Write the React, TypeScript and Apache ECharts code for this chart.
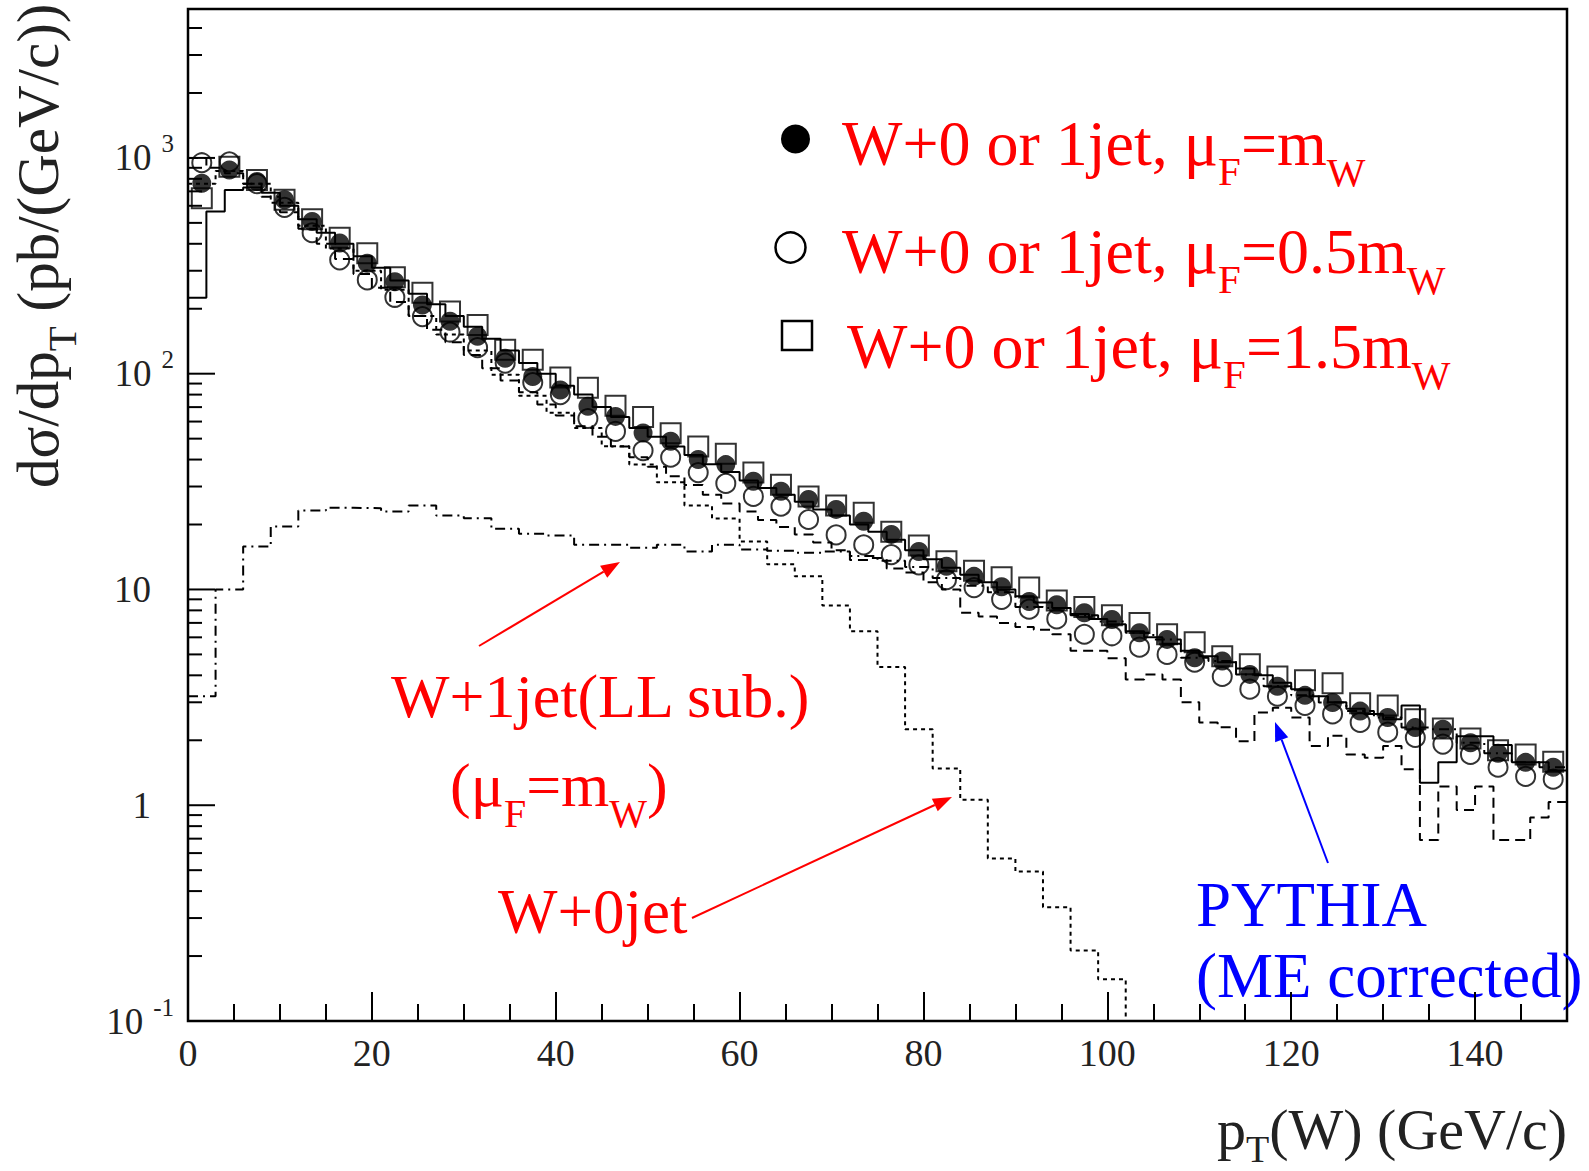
import React, { useEffect, useRef } from "react";
import * as echarts from "echarts";

const FONT = '"Liberation Serif", "Times New Roman", serif';

// ---------------- data ----------------
// 3 GeV bins: marker positions (bin centres)
const binCenters3 = [1.5, 4.5, 7.5, 10.5, 13.5, 16.5, 19.5, 22.5, 25.5, 28.5, 31.5, 34.5, 37.5, 40.5, 43.5, 46.5, 49.5, 52.5, 55.5, 58.5, 61.5, 64.5, 67.5, 70.5, 73.5, 76.5, 79.5, 82.5, 85.5, 88.5, 91.5, 94.5, 97.5, 100.5, 103.5, 106.5, 109.5, 112.5, 115.5, 118.5, 121.5, 124.5, 127.5, 130.5, 133.5, 136.5, 139.5, 142.5, 145.5, 148.5];
// W+0 or 1jet, muF = mW (filled circles)
const muF_mW = [763, 880, 777, 640, 507, 403, 325, 267, 208, 175, 149, 118, 97, 84, 70.6, 63.4, 53.1, 48.6, 40.0, 37.9, 31.7, 28.5, 26.1, 23.5, 20.7, 18.0, 15.0, 12.8, 11.5, 10.3, 8.8, 8.5, 7.8, 7.26, 6.3, 5.87, 4.83, 4.66, 4.04, 3.56, 3.23, 2.99, 2.73, 2.55, 2.29, 2.25, 1.95, 1.74, 1.58, 1.50];
// W+0 or 1jet, muF = 0.5 mW (open circles)
const muF_05mW = [950, 960, 760, 590, 450, 337, 272, 226, 184, 156, 132, 112, 91, 80, 62, 54, 44, 41, 34.8, 31, 27, 24.3, 21.1, 17.9, 16.1, 14.5, 13.0, 11.1, 10.2, 9.0, 8.1, 7.3, 6.2, 6.1, 5.4, 5.0, 4.6, 3.95, 3.45, 3.2, 2.9, 2.65, 2.42, 2.18, 2.06, 1.92, 1.72, 1.5, 1.36, 1.32];
// W+0 or 1jet, muF = 1.5 mW (open squares)
const muF_15mW = [650, 910, 790, 640, 520, 427, 362, 280, 237, 194, 168, 129, 116, 96, 86, 71, 63, 53, 46, 42.5, 34.8, 30.6, 27, 24.5, 22.7, 18.5, 16, 13.5, 12.2, 11.4, 10.2, 8.9, 8.3, 7.6, 7.0, 6.2, 5.7, 4.9, 4.5, 3.95, 3.8, 3.68, 2.97, 2.9, 2.5, 2.27, 2.04, 1.8, 1.72, 1.59];

// 3 GeV histogram edges
const binEdges3 = [0, 3, 6, 9, 12, 15, 18, 21, 24, 27, 30, 33, 36, 39, 42, 45, 48, 51, 54, 57, 60, 63, 66, 69, 72, 75, 78, 81, 84, 87, 90, 93, 96, 99, 102, 105, 108, 111, 114, 117, 120, 123, 126, 129, 132, 135, 138, 141, 144, 147, 150];
// W+0jet (dotted) - falls below the axis after 102 GeV
const w0jet = [760, 870, 760, 620, 485, 380, 300, 245, 185, 152, 128, 99, 79, 66, 56, 46.1, 37.9, 31.4, 24.5, 21.3, 16.7, 13.1, 11.5, 8.43, 6.41, 4.37, 2.25, 1.48, 1.06, 0.567, 0.493, 0.337, 0.212, 0.156];
const w0jetBelowAxis = 0.03;
// W+1jet (LL sub.) (dash-dotted)
const w1jetLL = [3.2, 10, 15.8, 19.6, 23.2, 23.9, 23.8, 23.0, 24.5, 22, 21.4, 19.1, 18.1, 17.8, 16.1, 16.1, 15.6, 16.1, 15.0, 16.1, 15.3, 15.1, 14.8, 15.0, 14.3, 13.6, 12.7, 11.3, 10.4, 9.7, 8.3, 8.2, 7.6, 7.1, 6.3, 5.87, 4.83, 4.66, 4.04, 3.56, 3.23, 2.99, 2.73, 2.55, 2.29, 2.25, 1.95, 1.74, 1.58, 1.50];

// 2 GeV histogram edges
const binEdges2 = [0, 2, 4, 6, 8, 10, 12, 14, 16, 18, 20, 22, 24, 26, 28, 30, 32, 34, 36, 38, 40, 42, 44, 46, 48, 50, 52, 54, 56, 58, 60, 62, 64, 66, 68, 70, 72, 74, 76, 78, 80, 82, 84, 86, 88, 90, 92, 94, 96, 98, 100, 102, 104, 106, 108, 110, 112, 114, 116, 118, 120, 122, 124, 126, 128, 130, 132, 134, 136, 138, 140, 142, 144, 146, 148, 150];
// solid histogram
const histSolid = [225, 564, 711, 730, 690, 600, 520, 450, 400, 350, 310, 270, 235, 210, 185, 165, 145, 128, 112, 100, 88, 80, 70, 63, 56, 51, 46, 42, 38, 35, 32, 29.5, 27.5, 25.5, 23.5, 22, 20, 18.5, 17, 15.2, 13.8, 12.6, 11.7, 10.8, 10.0, 9.3, 8.7, 8.2, 7.7, 7.3, 6.9, 6.4, 6.0, 5.6, 5.2, 4.9, 4.6, 4.3, 4.0, 3.7, 3.45, 3.2, 3.0, 2.8, 2.65, 2.5, 2.9, 1.27, 1.58, 2.09, 2.09, 1.9, 1.58, 1.58, 1.45];
// dashed histogram (PYTHIA, ME corrected)
const histDashed = [1000, 900, 850, 760, 660, 560, 470, 400, 340, 290, 250, 215, 185, 160, 140, 122, 106, 93, 82, 72, 64, 57, 51, 46, 41, 37, 33.5, 30.5, 27.5, 25, 23, 21, 19.5, 18, 16.5, 15.2, 13.7, 14, 12.5, 12, 10.8, 10, 7.8, 7.5, 7.0, 6.7, 6.5, 6.2, 5.2, 5.2, 4.8, 3.83, 4.04, 3.83, 3.0, 2.42, 2.3, 1.98, 2.69, 2.83, 2.55, 1.88, 2.1, 1.72, 1.66, 1.88, 1.47, 0.69, 1.22, 0.95, 1.22, 0.69, 0.69, 0.877, 1.035];

// axes
const xMin = 0;
const xMax = 150;
const xMajorStep = 20;
const xMinorStep = 5;
const yMin = 0.1;
const yMax = 4900;
const yMajorTicks = [0.1, 1, 10, 100, 1000];
const yMinorTicks = [0.2, 0.3, 0.4, 0.5, 0.6, 0.7, 0.8, 0.9, 2, 3, 4, 5, 6, 7, 8, 9, 20, 30, 40, 50, 60, 70, 80, 90, 200, 300, 400, 500, 600, 700, 800, 900, 2000, 3000, 4000];
const yTickLabels = [
  { v: 0.1, base: "10", sup: "-1" },
  { v: 1, base: "1", sup: "" },
  { v: 10, base: "10", sup: "" },
  { v: 100, base: "10", sup: "2" },
  { v: 1000, base: "10", sup: "3" },
];

// texts
const legendLines = [
  { main: "W+0 or 1jet, \u03bc", sub1: "F", mid: "=m", sub2: "W" },
  { main: "W+0 or 1jet, \u03bc", sub1: "F", mid: "=0.5m", sub2: "W" },
  { main: "W+0 or 1jet, \u03bc", sub1: "F", mid: "=1.5m", sub2: "W" },
];

// ---------------- helpers ----------------
let ctx2d: CanvasRenderingContext2D | null = null;
function measure(text: string, size: number): number {
  if (!ctx2d) ctx2d = document.createElement("canvas").getContext("2d");
  if (!ctx2d) return text.length * size * 0.5;
  ctx2d.font = `${size}px ${FONT}`;
  return ctx2d.measureText(text).width;
}

type Seg = { t: string; s: number; dy?: number };
function textRow(x: number, baseline: number, segs: Seg[], color: string): any[] {
  let cx = x;
  const out: any[] = [];
  for (const seg of segs) {
    out.push({
      type: "text",
      x: cx,
      y: baseline + (seg.dy || 0) - 0.34 * seg.s,
      silent: true,
      style: {
        text: seg.t,
        fontSize: seg.s,
        fontFamily: FONT,
        fill: color,
        align: "left",
        verticalAlign: "middle",
        textAlign: "left",
        textVerticalAlign: "middle",
      },
    });
    cx += measure(seg.t, seg.s);
  }
  return out;
}

function arrow(x1: number, y1: number, x2: number, y2: number, color: string): any[] {
  const ang = Math.atan2(y2 - y1, x2 - x1);
  const headLen = 19;
  const headW = 7;
  const bx = x2 - headLen * Math.cos(ang);
  const by = y2 - headLen * Math.sin(ang);
  const nx = -Math.sin(ang);
  const ny = Math.cos(ang);
  return [
    { type: "line", silent: true, shape: { x1, y1, x2: bx, y2: by }, style: { stroke: color, lineWidth: 2 } },
    {
      type: "polygon",
      silent: true,
      shape: { points: [[x2, y2], [bx + nx * headW, by + ny * headW], [bx - nx * headW, by - ny * headW]] },
      style: { fill: color },
    },
  ];
}

function stepData(edges: number[], vals: number[], dropTo?: number): number[][] {
  const d = vals.map((v, i) => [edges[i], v]);
  d.push([edges[vals.length], dropTo !== undefined ? dropTo : vals[vals.length - 1]]);
  return d;
}

export default function App() {
  const ref = useRef<HTMLDivElement>(null);

  useEffect(() => {
    if (!ref.current) return;
    const chart = echarts.init(ref.current, undefined, { renderer: "svg" });

    const RED = "#ff0000";
    const BLUE = "#0000ff";
    const graphics: any[] = [];

    // legend markers
    graphics.push({ type: "circle", silent: true, shape: { cx: 795.5, cy: 139, r: 14.5 }, style: { fill: "#000" } });
    graphics.push({ type: "circle", silent: true, shape: { cx: 790.5, cy: 247.5, r: 15 }, style: { fill: "none", stroke: "#000", lineWidth: 2.5 } });
    graphics.push({ type: "rect", silent: true, shape: { x: 782, y: 321, width: 30, height: 29 }, style: { fill: "none", stroke: "#000", lineWidth: 2.5 } });

    const legendPos = [
      { x: 842, b: 165 },
      { x: 842, b: 273 },
      { x: 847, b: 368 },
    ];
    legendLines.forEach((l, i) => {
      graphics.push(
        ...textRow(legendPos[i].x, legendPos[i].b, [
          { t: l.main, s: 64 },
          { t: l.sub1, s: 41, dy: 20 },
          { t: l.mid, s: 64 },
          { t: l.sub2, s: 41, dy: 21 },
        ], RED)
      );
    });

    // annotations
    graphics.push(...textRow(391, 717, [{ t: "W+1jet(LL sub.)", s: 62 }], RED));
    graphics.push(
      ...textRow(450, 806, [
        { t: "(\u03bc", s: 62 },
        { t: "F", s: 40, dy: 21 },
        { t: "=m", s: 62 },
        { t: "W", s: 40, dy: 21 },
        { t: ")", s: 62 },
      ], RED)
    );
    graphics.push(...textRow(498, 933, [{ t: "W+0jet", s: 63 }], RED));
    graphics.push(...textRow(1196, 926, [{ t: "PYTHIA", s: 63 }], BLUE));
    graphics.push(...textRow(1196, 997, [{ t: "(ME corrected)", s: 63 }], BLUE));
    graphics.push(...arrow(479, 646, 620, 562, RED));
    graphics.push(...arrow(692, 918, 952, 797, RED));
    graphics.push(...arrow(1328, 863, 1275, 722, BLUE));

    // axis titles
    graphics.push(
      ...textRow(1217, 1149, [
        { t: "p", s: 58 },
        { t: "T", s: 38, dy: 13 },
        { t: "(W) (GeV/c)", s: 58 },
      ], "#222")
    );
    graphics.push({
      type: "group",
      x: 58,
      y: 488,
      rotation: Math.PI / 2,
      silent: true,
      children: textRow(0, 0, [
        { t: "d\u03c3/dp", s: 59 },
        { t: "T", s: 41, dy: 18 },
        { t: " (pb/(GeV/c))", s: 59 },
      ], "#222"),
    });

    const lineBase = {
      type: "line",
      step: "end",
      symbol: "none",
      silent: true,
      clip: true,
      xAxisIndex: 0,
      yAxisIndex: 0,
    };
    const hollow = { color: "rgba(0,0,0,0)", borderColor: "#000", borderWidth: 2 };

    const option: any = {
      animation: false,
      backgroundColor: "#ffffff",
      grid: {
        left: 188,
        right: 22,
        top: 9,
        bottom: 150,
        show: true,
        borderColor: "#000",
        borderWidth: 2.5,
        backgroundColor: "transparent",
        containLabel: false,
      },
      xAxis: [
        {
          type: "value",
          min: xMin,
          max: xMax,
          interval: xMajorStep,
          position: "bottom",
          axisLine: { show: false },
          axisTick: { show: true, inside: true, length: 29, lineStyle: { color: "#000", width: 2 } },
          splitLine: { show: false },
          axisLabel: {
            fontFamily: FONT,
            fontSize: 38,
            color: "#222",
            margin: 13,
            formatter: (v: number) => (v % xMajorStep === 0 ? String(v) : ""),
          },
        },
        {
          type: "value",
          min: xMin,
          max: xMax,
          interval: xMinorStep,
          position: "bottom",
          axisLine: { show: false },
          axisTick: { show: true, inside: true, length: 17, lineStyle: { color: "#000", width: 2 } },
          splitLine: { show: false },
          axisLabel: { show: false },
        },
      ],
      yAxis: {
        type: "log",
        logBase: 10,
        min: yMin,
        max: yMax,
        axisLine: { show: false },
        axisTick: { show: false },
        axisLabel: { show: false },
        splitLine: { show: false },
      },
      series: [
        { ...lineBase, name: "W+0jet", data: stepData(binEdges3, w0jet, w0jetBelowAxis), lineStyle: { color: "#000", width: 2, type: [4, 4] } },
        { ...lineBase, name: "W+1jet (LL sub.)", data: stepData(binEdges3, w1jetLL), lineStyle: { color: "#000", width: 2, type: [10, 5, 2, 5] } },
        { ...lineBase, name: "PYTHIA dashed", data: stepData(binEdges2, histDashed), lineStyle: { color: "#000", width: 2, type: [10, 6] } },
        { ...lineBase, name: "solid", data: stepData(binEdges2, histSolid), lineStyle: { color: "#000", width: 2, type: "solid" } },
        {
          type: "scatter",
          name: "muF=1.5mW",
          silent: true,
          symbol: "rect",
          symbolSize: 20,
          data: binCenters3.map((x, i) => [x, muF_15mW[i]]),
          itemStyle: hollow,
        },
        {
          type: "scatter",
          name: "muF=0.5mW",
          silent: true,
          symbol: "circle",
          symbolSize: 19,
          data: binCenters3.map((x, i) => [x, muF_05mW[i]]),
          itemStyle: hollow,
        },
        {
          type: "scatter",
          name: "muF=mW",
          silent: true,
          symbol: "circle",
          symbolSize: 19,
          data: binCenters3.map((x, i) => [x, muF_mW[i]]),
          itemStyle: { color: "#000" },
        },
        {
          type: "custom",
          name: "yMajorTicks",
          silent: true,
          data: yMajorTicks.map((v) => [0, v]),
          renderItem: (_p: any, api: any) => {
            const p = api.coord([0, api.value(1)]);
            return { type: "line", shape: { x1: p[0], y1: p[1], x2: p[0] + 27, y2: p[1] }, style: { stroke: "#000", lineWidth: 2 } };
          },
        },
        {
          type: "custom",
          name: "yMinorTicks",
          silent: true,
          data: yMinorTicks.map((v) => [0, v]),
          renderItem: (_p: any, api: any) => {
            const p = api.coord([0, api.value(1)]);
            return { type: "line", shape: { x1: p[0], y1: p[1], x2: p[0] + 14, y2: p[1] }, style: { stroke: "#000", lineWidth: 2 } };
          },
        },
        {
          type: "custom",
          name: "yLabels",
          silent: true,
          data: yTickLabels.map((l, i) => [0, l.v, i]),
          renderItem: (_p: any, api: any) => {
            const lab = yTickLabels[api.value(2)];
            const p = api.coord([0, api.value(1)]);
            const right = p[0] - 14;
            const supSize = 25;
            const supW = lab.sup ? measure(lab.sup, supSize) : 0;
            const baseRight = lab.sup ? right - supW - 10 : p[0] - 37;
            const children: any[] = [
              {
                type: "text",
                x: baseRight,
                y: p[1],
                style: { text: lab.base, fontSize: 37, fontFamily: FONT, fill: "#222", align: "right", verticalAlign: "middle", textAlign: "right", textVerticalAlign: "middle" },
              },
            ];
            if (lab.sup) {
              children.push({
                type: "text",
                x: right,
                y: p[1] - 14,
                style: { text: lab.sup, fontSize: supSize, fontFamily: FONT, fill: "#222", align: "right", verticalAlign: "middle", textAlign: "right", textVerticalAlign: "middle" },
              });
            }
            return { type: "group", children };
          },
        },
      ],
      graphic: { elements: graphics },
    };

    chart.setOption(option);
    return () => chart.dispose();
  }, []);

  return (
    <div
      ref={ref}
      style={{ position: "absolute", left: 0, top: 0, width: 1589, height: 1171, background: "#fff" }}
    />
  );
}
